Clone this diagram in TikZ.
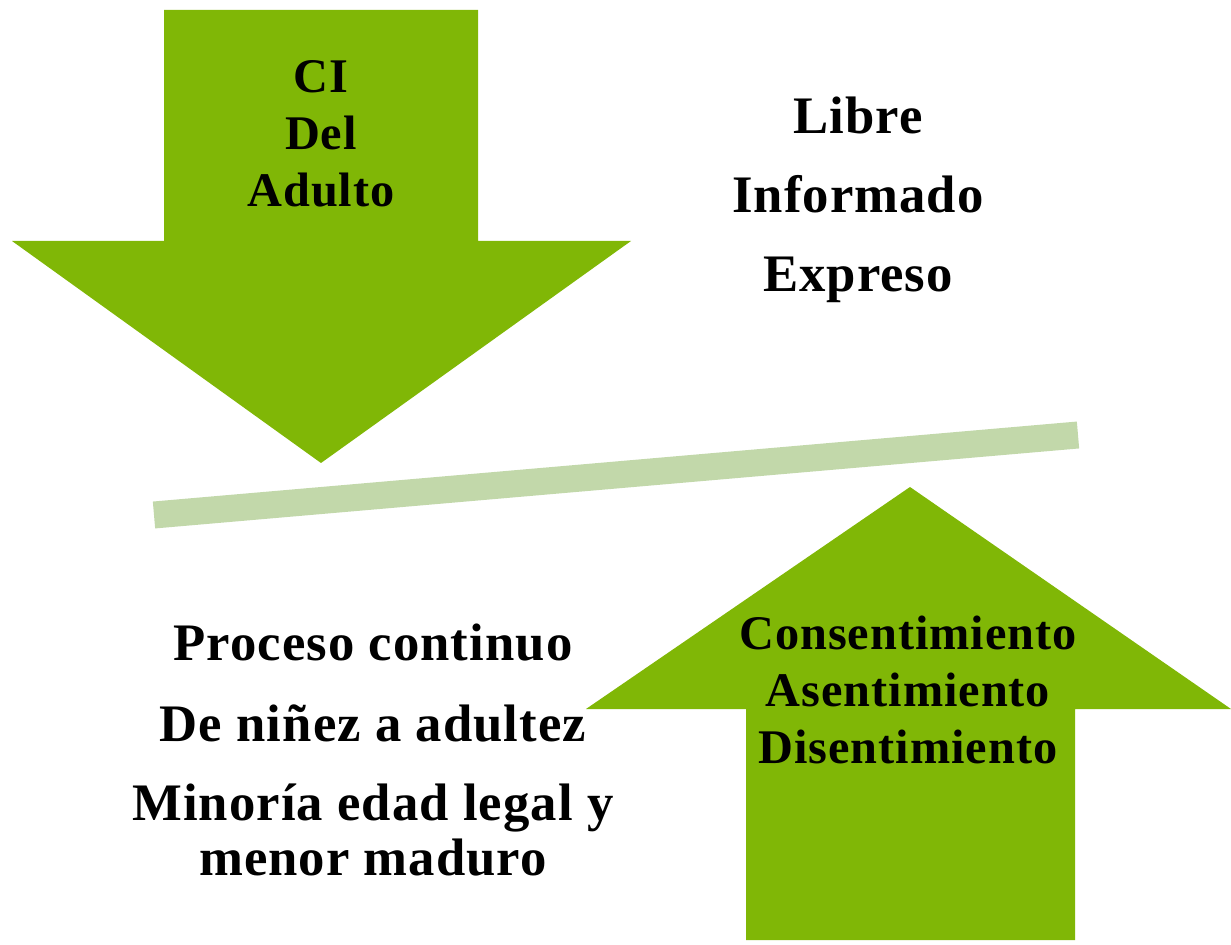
\documentclass[tikz,border=0pt]{standalone}
\usepackage{fontspec}
\setmainfont{Liberation Serif}[LetterSpace=2]
\definecolor{leafgreen}{RGB}{128,183,6}
\definecolor{palegreen}{RGB}{194,216,170}
\begin{document}
\begin{tikzpicture}[x=0.02cm, y=-0.02cm]
  \useasboundingbox (0,0) rectangle (1231,945);

  % Down arrow - adult consent
  \begin{scope}
    \fill[leafgreen] (164,10) -- (478,10) -- (478,241) -- (631,241)
      -- (321,463) -- (12,241) -- (164,241) -- cycle;
    \node[align=center, font=\bfseries\fontsize{27.5}{32.4}\selectfont] (ci) at (321,134) {CI\\Del\\Adulto};
  \end{scope}

  % Right text
  \node[align=center, font=\bfseries\fontsize{30}{45}\selectfont] (libre) at (858,200) {Libre\\Informado\\Expreso};

  % Balance bar
  \coordinate (barl) at (154,515);
  \coordinate (barr) at (1078,435);
  \draw[palegreen, line width=0.54cm] (barl) -- (barr);

  % Up arrow - consent of minor
  \begin{scope}
    \fill[leafgreen] (746,940) -- (746,709) -- (586,709) -- (910,487)
      -- (1231,709) -- (1075,709) -- (1075,940) -- cycle;
    \node[align=center, font=\bfseries\fontsize{27.5}{32.4}\selectfont] (cons) at (908,690) {Consentimiento\\Asentimiento\\Disentimiento};
  \end{scope}

  % Left text
  \node[font=\bfseries\fontsize{30}{34}\selectfont] (proc) at (373,643) {Proceso continuo};
  \node[font=\bfseries\fontsize{30}{34}\selectfont] (ninez) at (373,723) {De niñez a adultez};
  \node[align=center, font=\bfseries\fontsize{30}{31}\selectfont] (menor) at (373,830) {Minoría edad legal y\\menor maduro};
\end{tikzpicture}
\end{document}
